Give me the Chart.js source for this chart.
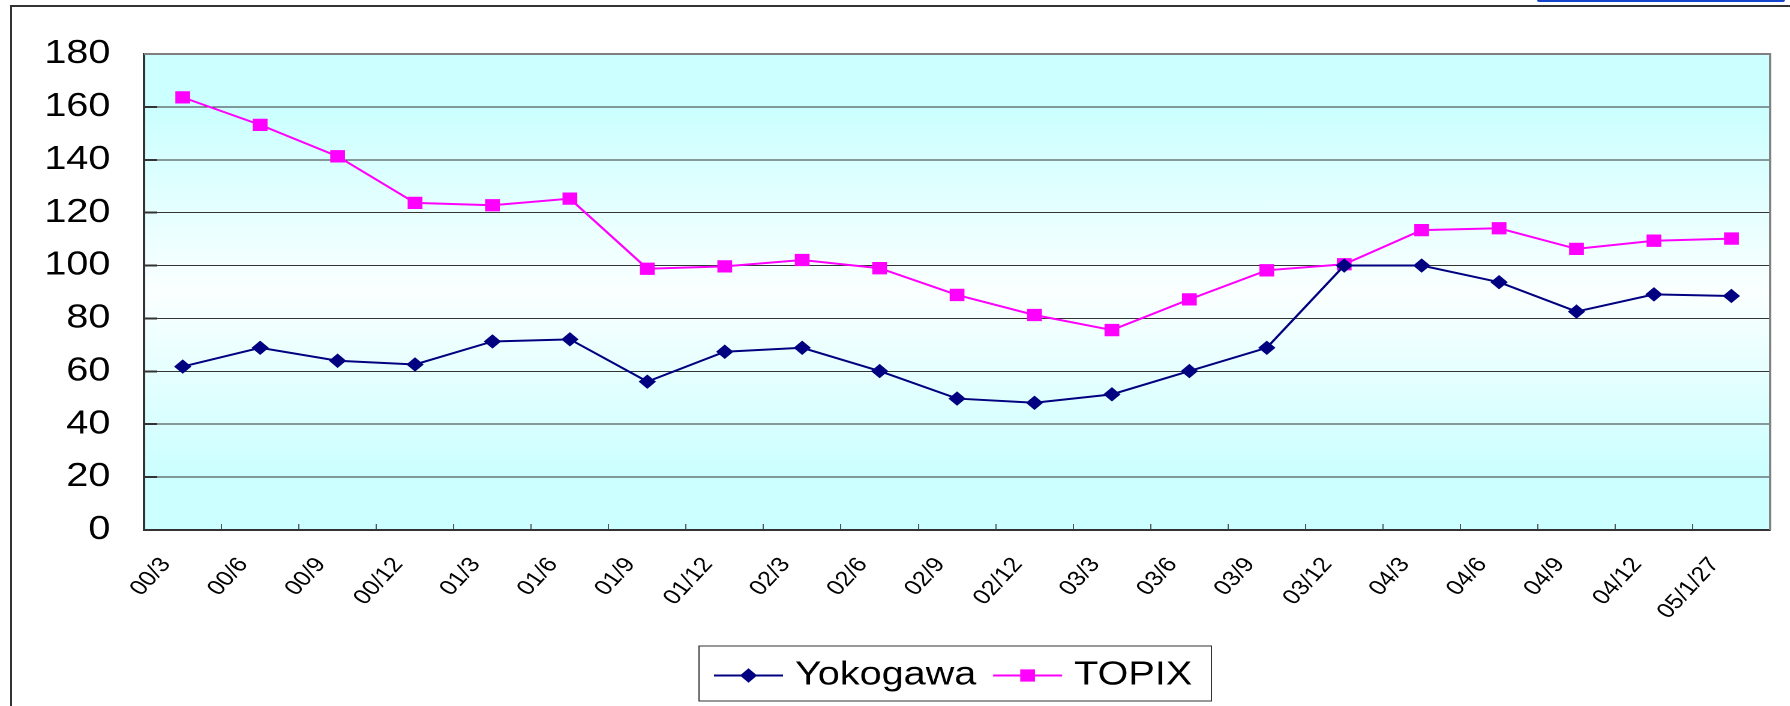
<!DOCTYPE html>
<html>
<head>
<meta charset="utf-8">
<script src="https://cdn.jsdelivr.net/npm/chart.js@4.4.1/dist/chart.umd.min.js"></script>
<style>
  html, body { margin:0; padding:0; background:#fff; overflow:hidden; }
  body { width:1790px; height:706px; position:relative; }
  #frame { position:absolute; left:10px; top:5px; width:1800px; height:720px; border-left:2px solid #333; border-top:2px solid #333; }
  #tab { position:absolute; left:1537px; top:0; width:248px; height:2px; background:#1443cc; border-radius:0 0 3px 3px; }
  /* the original picture is stretched sideways, so the chart is drawn narrower and scaled */
  #wrap { position:absolute; left:0; top:0; width:1492px; height:706px; transform:scaleX(1.2); transform-origin:0 0; }
</style>
</head>
<body>
<div id="frame"></div>
<div id="tab"></div>
<div id="wrap"><canvas id="chart"></canvas></div>
<script>
const periods = ['00/3','00/6','00/9','00/12','01/3','01/6','01/9','01/12','02/3','02/6','02/9',
  '02/12','03/3','03/6','03/9','03/12','04/3','04/6','04/9','04/12','05/1/27'];
const yokogawa = [61.8, 68.9, 64.0, 62.6, 71.3, 72.1, 56.1, 67.4, 68.9, 60.1, 49.7,
  48.1, 51.3, 60.1, 68.9, 100, 100, 93.7, 82.6, 89.1, 88.5];
const topix = [163.6, 153.2, 141.3, 123.7, 122.8, 125.3, 98.8, 99.7, 102.1, 99.0, 88.9,
  81.3, 75.6, 87.2, 98.2, 100.5, 113.4, 114.1, 106.3, 109.4, 110.2];
const yMin = 0, yMax = 180, yStep = 20;

const FONT = '"Liberation Sans", Arial, sans-serif';

// gradient fill of the plot area + grey top/right frame
const plotBackground = {
  id: 'plotBackground',
  beforeDraw(chart) {
    const {ctx, chartArea: a} = chart;
    const g = ctx.createLinearGradient(0, a.top, 0, a.bottom);
    g.addColorStop(0, '#ccffff');
    g.addColorStop(0.12, '#ccffff');
    g.addColorStop(0.5, '#fbffff');
    g.addColorStop(0.88, '#ccffff');
    g.addColorStop(1, '#ccffff');
    ctx.save();
    ctx.fillStyle = g;
    ctx.fillRect(a.left, a.top, a.right - a.left, a.bottom - a.top);
    ctx.restore();
  },
  beforeDatasetsDraw(chart) {
    const {ctx, chartArea: a} = chart;
    ctx.save();
    ctx.strokeStyle = '#808080';
    ctx.lineWidth = 2;
    ctx.beginPath();
    ctx.moveTo(a.left, a.top);
    ctx.lineTo(a.right, a.top);
    ctx.lineTo(a.right, a.bottom);
    ctx.stroke();
    ctx.restore();
  }
};

// legend: moved under the plot, with a frame and line+marker samples
const legendBox = {
  id: 'legendBox',
  afterLayout(chart) {
    const lg = chart.legend;
    if (!lg || !lg.lineWidths) return;
    const pad = lg.options.labels.padding;
    const start = (lg.left + pad + lg.right - lg.lineWidths[0]) / 2;
    const dx = 598 - start;
    lg.left += dx;
    lg.right += dx;
  },
  afterDraw(chart) {
    const lg = chart.legend;
    const hb = lg.legendHitBoxes;
    if (!hb || !hb.length) return;
    const ctx = chart.ctx;
    const cy = hb[0].top + hb[0].height / 2;
    const last = hb[hb.length - 1];
    ctx.save();
    ctx.strokeStyle = '#333';
    ctx.lineWidth = 1;
    const bx = hb[0].left - 15.5;
    ctx.strokeRect(bx, cy - 29.5, last.left + last.width + 16 - bx, 55);
    chart.data.datasets.forEach((ds, i) => {
      const x0 = hb[i].left - 3, x1 = hb[i].left + 54.5;
      ctx.strokeStyle = ds.borderColor;
      ctx.lineWidth = 2;
      ctx.beginPath();
      ctx.moveTo(x0, cy);
      ctx.lineTo(x1, cy);
      ctx.stroke();
      ctx.fillStyle = ds.pointBackgroundColor;
      ctx.strokeStyle = ds.pointBorderColor;
      ctx.lineWidth = 1;
      Chart.helpers.drawPoint(ctx, {pointStyle: ds.pointStyle, radius: ds.pointRadius, rotation: 0, borderWidth: 1}, (x0 + x1) / 2, cy);
    });
    ctx.restore();
  }
};

new Chart(document.getElementById('chart'), {
  type: 'line',
  data: {
    labels: periods,
    datasets: [
      { label: 'Yokogawa', data: yokogawa, borderColor: '#000080', borderWidth: 2,
        pointStyle: 'rectRot', pointRadius: 6.5, pointBackgroundColor: '#000080', pointBorderColor: '#000080', pointBorderWidth: 1, tension: 0 },
      { label: 'TOPIX', data: topix, borderColor: '#ff00ff', borderWidth: 2,
        pointStyle: 'rect', pointRadius: 8, pointBackgroundColor: '#ff00ff', pointBorderColor: '#ff00ff', pointBorderWidth: 1, tension: 0 }
    ]
  },
  options: {
    responsive: true,
    maintainAspectRatio: false,
    animation: false,
    devicePixelRatio: 2,
    layout: { padding: { left: 37, right: 14, top: 54, bottom: 4 } },
    plugins: {
      tooltip: { enabled: false },
      legend: {
        position: 'bottom',
        labels: {
          font: { family: FONT, size: 33 }, color: '#000',
          boxWidth: 48, boxHeight: 33, padding: 17,
          generateLabels: (chart) => chart.data.datasets.map((ds, i) => ({
            text: ds.label, fillStyle: 'rgba(0,0,0,0)', strokeStyle: 'rgba(0,0,0,0)',
            lineWidth: 0, hidden: false, datasetIndex: i
          }))
        }
      }
    },
    scales: {
      x: {
        offset: true,
        grid: { display: true, drawOnChartArea: false, drawTicks: true, tickLength: -6, offset: true,
          color: '#555', tickColor: '#555', tickWidth: 1 },
        border: { display: true, color: '#333', width: 2 },
        ticks: { autoSkip: false, minRotation: 52, maxRotation: 52, labelOffset: -14, padding: 29,
          font: { family: FONT, size: 21 }, color: '#000' },
        afterFit(scale) { scale.height = 112; }
      },
      y: {
        min: yMin, max: yMax,
        ticks: { stepSize: yStep, padding: 39, font: { family: FONT, size: 33 }, color: '#000' },
        grid: { color: (c) => (c.tick && c.tick.value === yMax) ? 'rgba(0,0,0,0)' : '#333',
          lineWidth: 1, drawTicks: true, tickLength: -11, tickColor: '#333', tickWidth: 2 },
        border: { color: '#333', width: 2 },
        afterFit(scale) {
          scale.width = 83;
          scale.paddingTop = 20;
          scale.paddingBottom = 20;
        }
      }
    }
  },
  plugins: [plotBackground, legendBox]
});
</script>
</body>
</html>
